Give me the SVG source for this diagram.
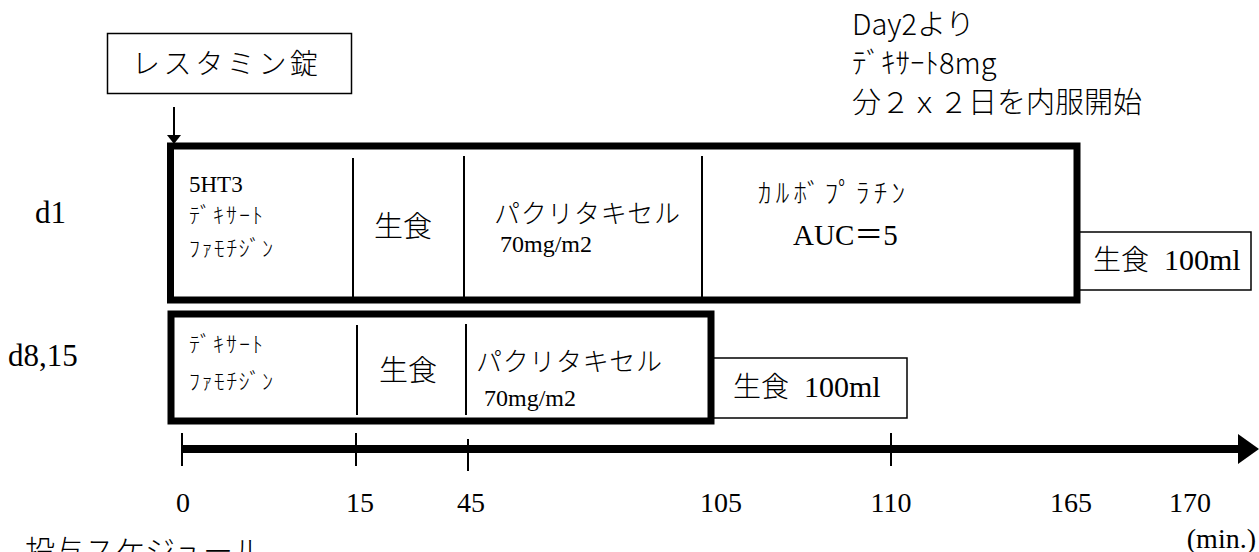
<svg xmlns="http://www.w3.org/2000/svg" width="1259" height="552" viewBox="0 0 1259 552">
<style>
.sans{font-family:"Noto Sans CJK JP","Noto Sans",sans-serif;font-weight:300;fill:#000}
.serif{font-family:"Liberation Serif","Noto Sans CJK JP",serif;fill:#000}
.thin{fill:#fff;stroke:#000;stroke-width:1.5}
.thick{fill:none;stroke:#000;stroke-width:7}
.div{stroke:#000;stroke-width:2}
.tick{stroke:#000;stroke-width:2}
</style>
<rect width="1259" height="552" fill="#fff"/>
<g id="connectors">
  <line x1="174" y1="107" x2="174" y2="136" stroke="#000" stroke-width="2"/>
  <polygon points="167,135 181,135 174,144" fill="#000"/>
  <line x1="182" y1="449" x2="1242" y2="449" stroke="#000" stroke-width="8"/>
  <polygon points="1238,434 1259,449 1238,464" fill="#000"/>
  <line class="tick" x1="182" y1="433" x2="182" y2="466"/>
  <line class="tick" x1="356" y1="433" x2="356" y2="466"/>
  <line class="tick" x1="468" y1="439" x2="468" y2="471"/>
  <line class="tick" x1="891" y1="433" x2="891" y2="466"/>
</g>
<g id="restamin">
  <rect class="thin" x="107.5" y="33.5" width="244" height="60"/>
  <text class="sans" x="132" y="74" font-size="28" textLength="186" lengthAdjust="spacing">レスタミン錠</text>
</g>
<g id="note">
  <text class="sans" x="852" y="35" font-size="29">Day2より</text>
  <text class="sans" x="852" y="74" font-size="29">ﾃﾞｷｻｰﾄ8mg</text>
  <text class="sans" x="852" y="113" font-size="29">分２ｘ２日を内服開始</text>
</g>
<g id="row-labels">
  <text class="serif" x="35" y="223" font-size="31">d1</text>
  <text class="serif" x="8" y="366" font-size="31">d8,15</text>
</g>
<g id="d1-saline-box">
  <rect class="thin" x="1077" y="232" width="174" height="58" stroke-width="2"/>
  <text x="1093" y="270" font-size="28"><tspan class="sans">生食</tspan><tspan class="serif" x="1164" font-size="30">100ml</tspan></text>
</g>
<g id="d1">
  <rect class="thick" x="170.5" y="146" width="906.5" height="154"/>
  <line class="div" x1="353" y1="158" x2="353" y2="297"/>
  <line class="div" x1="464" y1="156" x2="464" y2="297"/>
  <line class="div" x1="702" y1="156" x2="702" y2="297"/>
  <text class="serif" x="189" y="192" font-size="23">5HT3</text>
  <text class="sans" x="189" y="223" font-size="22" textLength="74" lengthAdjust="spacing">ﾃﾞｷｻｰﾄ</text>
  <text class="sans" x="189" y="256" font-size="22" textLength="84" lengthAdjust="spacing">ﾌｧﾓﾁｼﾞﾝ</text>
  <text class="sans" x="403" y="237" font-size="29" text-anchor="middle">生食</text>
  <text class="sans" x="494" y="223" font-size="26" textLength="186" lengthAdjust="spacing">パクリタキセル</text>
  <text class="serif" x="500" y="252" font-size="24">70mg/m2</text>
  <text class="sans" x="758" y="203" font-size="27" textLength="147" lengthAdjust="spacing">ｶﾙﾎﾞﾌﾟﾗﾁﾝ</text>
  <text class="serif" x="793" y="245" font-size="29">AUC＝5</text>
</g>
<g id="d8-saline-box">
  <rect class="thin" x="711" y="358" width="196" height="60" stroke-width="2"/>
  <text x="733" y="397" font-size="28"><tspan class="sans">生食</tspan><tspan class="serif" x="804" font-size="30">100ml</tspan></text>
</g>
<g id="d8">
  <rect class="thick" x="171" y="314" width="540" height="107"/>
  <line class="div" x1="357" y1="325" x2="357" y2="415"/>
  <line class="div" x1="466" y1="324" x2="466" y2="415"/>
  <text class="sans" x="189" y="352" font-size="22" textLength="74" lengthAdjust="spacing">ﾃﾞｷｻｰﾄ</text>
  <text class="sans" x="189" y="389" font-size="22" textLength="84" lengthAdjust="spacing">ﾌｧﾓﾁｼﾞﾝ</text>
  <text class="sans" x="408" y="381" font-size="29" text-anchor="middle">生食</text>
  <text class="sans" x="476" y="371" font-size="26" textLength="186" lengthAdjust="spacing">パクリタキセル</text>
  <text class="serif" x="484" y="406" font-size="24">70mg/m2</text>
</g>
<g id="axis-labels">
  <text class="serif" x="183" y="512" font-size="28" text-anchor="middle">0</text>
  <text class="serif" x="360" y="512" font-size="28" text-anchor="middle">15</text>
  <text class="serif" x="471" y="512" font-size="28" text-anchor="middle">45</text>
  <text class="serif" x="721" y="512" font-size="28" text-anchor="middle">105</text>
  <text class="serif" x="891" y="512" font-size="28" text-anchor="middle">110</text>
  <text class="serif" x="1071" y="512" font-size="28" text-anchor="middle">165</text>
  <text class="serif" x="1190" y="512" font-size="28" text-anchor="middle">170</text>
  <text class="serif" x="1256" y="548" font-size="28" text-anchor="end">(min.)</text>
  <text class="sans" x="25" y="562" font-size="30">投与スケジュール</text>
</g>
</svg>
